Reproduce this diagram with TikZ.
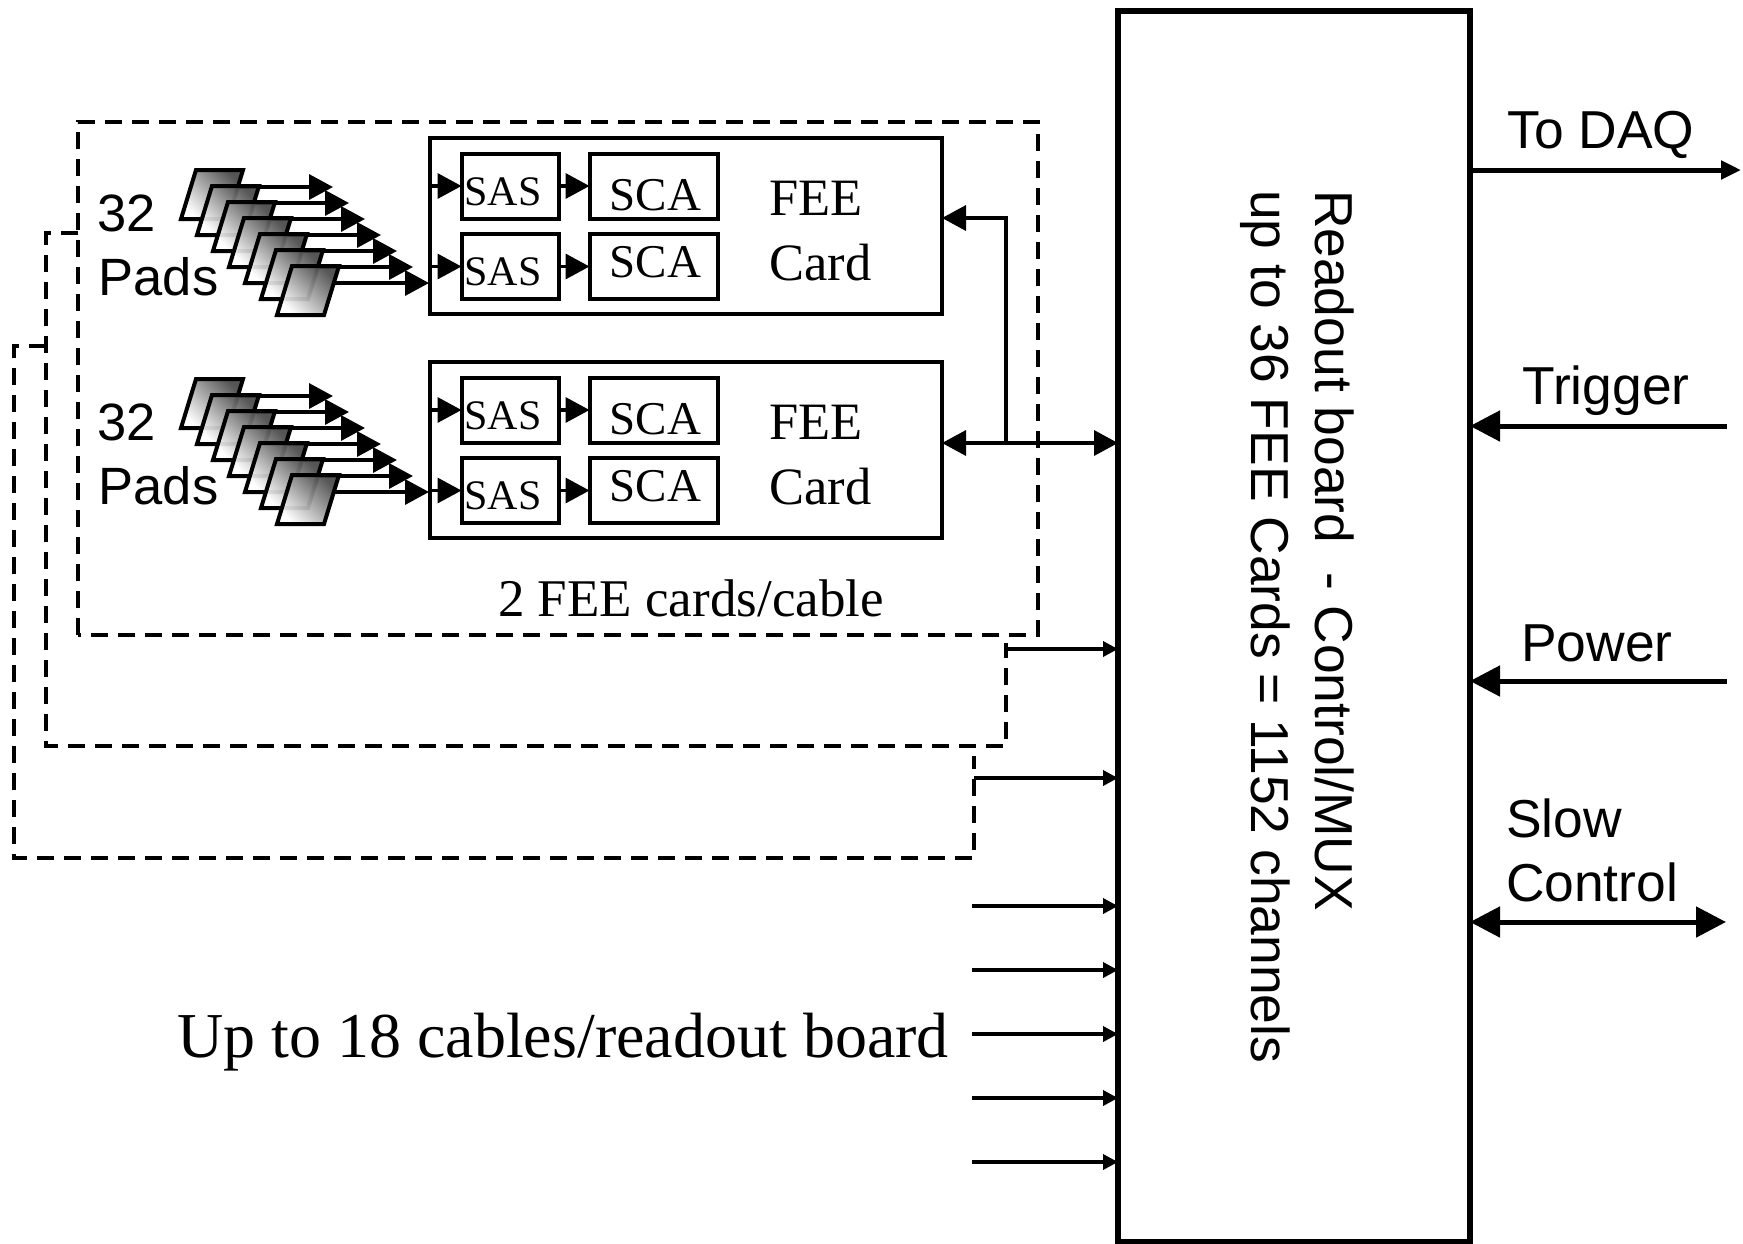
\documentclass[tikz,border=0pt]{standalone}
\usepackage{fontspec}
\setmainfont{Liberation Serif}
\setsansfont{Liberation Sans}
\usetikzlibrary{arrows.meta,calc}
\tikzset{
  box/.style={draw=black,line width=4pt,inner sep=0,outer sep=0,fill=white},
  mainbox/.style={box,line width=6pt},
  dashline/.style={draw=black,line width=4pt,dash pattern=on 17pt off 10pt},
  bigarrow/.style={-{Triangle[length=24pt,width=25pt]},line width=3.5pt},
  bigboth/.style={{Triangle[length=24pt,width=25pt]}-{Triangle[length=24pt,width=25pt]},line width=3.5pt},
  smallarrow/.style={-{Triangle[length=15pt,width=15pt]},line width=3.5pt},
  ext/.style={-{Triangle[length=30pt,width=30pt]},line width=5pt},
  extboth/.style={{Triangle[length=30pt,width=30pt]}-{Triangle[length=30pt,width=30pt]},line width=5pt},
  extout/.style={-{Triangle[length=20pt,width=18pt]},line width=5pt},
  sanslabel/.style={font=\sffamily\fontsize{53.4}{54}\selectfont,inner sep=0,outer sep=0},
  padlabel/.style={font=\sffamily\fontsize{52.5}{54}\selectfont,inner sep=0,outer sep=0},
  seriflabel/.style={font=\fontsize{52.5}{52.5}\selectfont,inner sep=0,outer sep=0},
  saslabel/.style={font=\fontsize{42}{42}\selectfont,inner sep=0,outer sep=0},
  scalabel/.style={font=\fontsize{47}{47}\selectfont,inner sep=0,outer sep=0},
  padshape/.style={draw=black,line width=4pt,shading=axis,left color=black!72,right color=white,shading angle=315,fill opacity=.92}
}
\begin{document}
\begin{tikzpicture}[x=1pt,y=-1pt]
\useasboundingbox (0,0) rectangle (1743,1243);
\fill[white] (0,0) rectangle (1743,1243);

% main board
\node[mainbox,minimum width=352pt,minimum height=1231pt] (main) at (1294,626.5) {};
\node[sanslabel,rotate=-90,anchor=west] (ro1) at (1335,190) {Readout board\ \ - Control/MUX};
\node[sanslabel,rotate=-90,anchor=west] (ro2) at (1265,190) {up to 36 FEE Cards = 1152 channels};

% dashed cable groups
\draw[dashline] (78,635) -- (78,122) -- (1038,122) -- (1038,635) -- cycle;
\coordinate (g2a) at (78,233);
\coordinate (g2b) at (1006,643);
\draw[dashline] (g2a) -- (46,233) -- (46,746) -- (1006,746) -- (g2b);
\coordinate (g3a) at (46,346);
\coordinate (g3b) at (974,756);
\draw[dashline] (g3a) -- (14,346) -- (14,858) -- (974,858) -- (g3b);

% FEE cards
\foreach \c/\dy/\pdy in {a/0/0,b/224/209}{
  \begin{scope}[yshift=-\dy pt]
    \node[box,minimum width=512pt,minimum height=176pt] (card\c) at (686,226) {};
    \node[box,minimum width=97pt,minimum height=65pt] (sas1\c) at (510,186) {};
    \node[box,minimum width=97pt,minimum height=65pt] (sas2\c) at (510,266.5) {};
    \node[box,minimum width=128pt,minimum height=65pt] (sca1\c) at (653.5,186) {};
    \node[box,minimum width=128pt,minimum height=65pt] (sca2\c) at (653.5,266.5) {};
    \node[saslabel] (st1\c) at (503,191.5) {SAS};
    \node[saslabel] (st2\c) at (503,272) {SAS};
    \node[scalabel] (ct1\c) at (655.5,195) {SCA};
    \node[scalabel] (ct2\c) at (655.5,262) {SCA};
    \node[seriflabel] (fee\c) at (816,198) {FEE};
    \node[seriflabel] (cd\c) at (820.5,262.5) {Card};
    \draw[bigarrow] (card\c.west |- sas1\c.west) -- (sas1\c.west);
    \draw[bigarrow] (card\c.west |- sas2\c.west) -- (sas2\c.west);
    \draw[bigarrow] (sas1\c.east) -- (sca1\c.west);
    \draw[bigarrow] (sas2\c.east) -- (sca2\c.west);
  \end{scope}
  % pad stack
  \begin{scope}[yshift=-\pdy pt]
    \foreach \k in {0,...,6}{
      \pgfmathsetmacro{\px}{16*\k}
      \pgfmathsetmacro{\tx}{333+16*\k}
      \path[padshape] (196+\px,170+\px) -- (243+\px,170+\px) -- (228+\px,219+\px) -- (181+\px,219+\px) -- cycle;
      \coordinate (pad\c\k) at (236+\px,187+\px);
      \coordinate (tip\c\k) at (\tx,187+\px);
      \draw[bigarrow] (pad\c\k) -- (tip\c\k);
    }
    \node[padlabel] (n\c) at (126.5,213.5) {32};
    \node[padlabel] (p\c) at (158.5,276.5) {Pads};
  \end{scope}
}

% card to board
\coordinate (junction) at (1006,443);
\draw[bigarrow] (junction) |- ([yshift=8pt]carda.east);
\draw[bigboth] (cardb.east |- junction) -- (main.west |- junction);

% cables
\foreach \nm/\xx/\yy in {a/1006/649,b/974/778,c/972/906,d/972/970,e/972/1034,f/972/1098,g/972/1162}{
  \coordinate (cab\nm) at (\xx,\yy);
  \draw[smallarrow] (cab\nm) -- (cab\nm -| main.west);
}

\node[seriflabel] (fc) at (691,598) {\fontsize{53}{53}\selectfont 2 FEE cards/cable};
\node[seriflabel] (up) at (563,1042.5) {\fontsize{64}{64}\selectfont Up to 18 cables/readout board};

% external signals
\coordinate (daq) at (1741,170);
\coordinate (trg) at (1727,426);
\coordinate (pwr) at (1727,681);
\coordinate (slw) at (1726,922);
\draw[extout] (main.east |- daq) -- (daq);
\draw[ext] (trg) -- (main.east |- trg);
\draw[ext] (pwr) -- (main.east |- pwr);
\draw[extboth] (main.east |- slw) -- (slw);
\node[sanslabel] (tdaq) at (1601,135) {To DAQ};
\node[sanslabel] (ttrg) at (1606,391) {Trigger};
\node[sanslabel] (tpwr) at (1597,643) {Power};
\node[sanslabel,anchor=west] (tslw1) at (1506,818) {Slow};
\node[sanslabel,anchor=west] (tslw2) at (1506,882) {Control};
\end{tikzpicture}
\end{document}
